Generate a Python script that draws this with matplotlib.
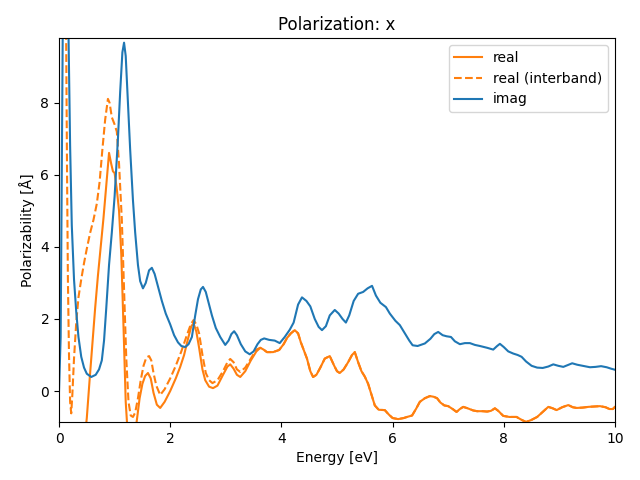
import numpy as np
import matplotlib
matplotlib.use("Agg")
import matplotlib.pyplot as plt

# imaginary part
imag_x = [0.0, 0.03, 0.055, 0.08, 0.11, 0.14, 0.17, 0.2, 0.23, 0.27, 0.31, 0.35, 0.40, 0.45, 0.50,
          0.58, 0.66, 0.72, 0.77, 0.81, 0.85, 0.90, 0.95, 1.00, 1.06, 1.10, 1.14, 1.17, 1.20, 1.24,
          1.28, 1.33, 1.37, 1.42, 1.46, 1.51, 1.56, 1.62, 1.67, 1.72, 1.78, 1.85, 1.92, 2.00, 2.07,
          2.14, 2.20, 2.27, 2.33, 2.39, 2.45, 2.50, 2.55, 2.59, 2.64, 2.70, 2.75, 2.82, 2.90, 2.99,
          3.05, 3.10, 3.15, 3.20, 3.27, 3.35, 3.43, 3.50, 3.57, 3.63, 3.69, 3.78, 3.88, 3.97, 4.06,
          4.15, 4.22, 4.30, 4.37, 4.45, 4.52, 4.60, 4.67, 4.73, 4.80, 4.87, 4.96, 5.03, 5.10, 5.16,
          5.22, 5.30, 5.38, 5.47, 5.55, 5.63, 5.70, 5.78, 5.88, 5.95, 6.05, 6.13, 6.22, 6.30, 6.36,
          6.45, 6.58, 6.68, 6.75, 6.82, 6.90, 6.97, 7.05, 7.12, 7.21, 7.30, 7.39, 7.48, 7.57, 7.70,
          7.81, 7.88, 7.93, 8.00, 8.08, 8.17, 8.25, 8.32, 8.40, 8.50, 8.60, 8.70, 8.80, 8.89, 8.98,
          9.07, 9.15, 9.23, 9.32, 9.45, 9.55, 9.65, 9.75, 9.85, 9.93, 10.0]
imag_y = [0.0, 1.5, 7.0, 13.0, 14.5, 13.0, 10.0, 6.8, 4.6, 3.1, 2.2, 1.5, 0.95, 0.65, 0.48,
          0.39, 0.45, 0.6, 0.85, 1.4, 2.3, 3.5, 4.4, 5.4, 7.0, 8.3, 9.4, 9.67, 9.3, 8.0,
          6.7, 5.3, 4.4, 3.5, 3.05, 2.85, 3.0, 3.35, 3.42, 3.25, 2.9, 2.5, 2.15, 1.85, 1.55,
          1.35, 1.25, 1.22, 1.3, 1.5, 2.1, 2.55, 2.82, 2.89, 2.75, 2.4, 2.1, 1.75, 1.5, 1.28,
          1.4, 1.58, 1.66, 1.55, 1.3, 1.1, 1.02, 1.1, 1.3, 1.42, 1.46, 1.42, 1.4, 1.33, 1.5,
          1.7, 1.9, 2.4, 2.6, 2.5, 2.35, 2.0, 1.78, 1.69, 1.8, 2.1, 2.25, 2.15, 2.0, 1.9,
          2.1, 2.5, 2.7, 2.75, 2.85, 2.92, 2.65, 2.45, 2.33, 2.15, 1.95, 1.83, 1.6, 1.4, 1.27,
          1.25, 1.32, 1.45, 1.58, 1.64, 1.55, 1.52, 1.5, 1.38, 1.3, 1.33, 1.33, 1.28, 1.25, 1.2,
          1.15, 1.25, 1.31, 1.22, 1.1, 1.04, 1.0, 0.95, 0.82, 0.7, 0.65, 0.64, 0.68, 0.74, 0.7,
          0.67, 0.72, 0.77, 0.73, 0.69, 0.66, 0.67, 0.69, 0.66, 0.62, 0.59]

# real part (total)
real_x = [0.0, 0.1, 0.2, 0.3, 0.4, 0.47, 0.5, 0.55, 0.6, 0.65, 0.7, 0.75, 0.8, 0.85, 0.9, 0.94,
          0.97, 1.0, 1.04, 1.08, 1.12, 1.16, 1.2, 1.24, 1.3, 1.36, 1.4, 1.45, 1.5, 1.55, 1.6, 1.65,
          1.7, 1.76, 1.82, 1.9, 2.0, 2.1, 2.18, 2.25, 2.32, 2.38, 2.42, 2.47, 2.52, 2.58, 2.63,
          2.7, 2.77, 2.85, 2.95, 3.03, 3.08, 3.14, 3.2, 3.26, 3.35, 3.45, 3.55, 3.62, 3.68, 3.74,
          3.85, 3.96, 4.04, 4.1, 4.17, 4.24, 4.3, 4.35, 4.41, 4.46, 4.52, 4.57, 4.63, 4.7, 4.78,
          4.87, 4.95, 5.0, 5.05, 5.12, 5.2, 5.27, 5.32, 5.38, 5.44, 5.5, 5.56, 5.62, 5.68, 5.75,
          5.86, 5.93, 6.0, 6.1, 6.2, 6.26, 6.35, 6.42, 6.49, 6.58, 6.67, 6.74, 6.8, 6.86, 6.93,
          7.0, 7.08, 7.15, 7.21, 7.27, 7.35, 7.45, 7.52, 7.62, 7.7, 7.77, 7.84, 7.9, 7.99, 8.1,
          8.23, 8.32, 8.4, 8.5, 8.6, 8.7, 8.8, 8.88, 8.95, 9.05, 9.16, 9.24, 9.31, 9.42, 9.52,
          9.62, 9.73, 9.83, 9.9, 9.96, 10.0]
real_y = [-20.0, -15.0, -8.0, -4.5, -2.5, -1.2, -0.75, 0.3, 1.3, 2.3, 3.2, 4.0, 4.8, 5.7, 6.61, 6.3,
          6.1, 6.05, 5.6, 5.0, 3.8, 1.8, -0.3, -1.3, -1.6, -1.3, -0.8, -0.2, 0.2, 0.42, 0.5, 0.35,
          -0.05, -0.38, -0.47, -0.3, 0.0, 0.35, 0.67, 1.0, 1.45, 1.8, 1.88, 1.65, 1.2, 0.6, 0.3,
          0.12, 0.08, 0.15, 0.45, 0.68, 0.74, 0.62, 0.45, 0.39, 0.55, 0.85, 1.1, 1.2, 1.15, 1.08,
          1.08, 1.14, 1.3, 1.47, 1.6, 1.69, 1.6, 1.35, 1.1, 0.9, 0.55, 0.39, 0.45, 0.65, 0.9,
          0.97, 0.7, 0.55, 0.5, 0.6, 0.8, 1.0, 1.08, 0.8, 0.55, 0.4, 0.2, -0.1, -0.4, -0.52,
          -0.53, -0.65, -0.75, -0.78, -0.75, -0.72, -0.68, -0.5, -0.3, -0.2, -0.14, -0.16, -0.2, -0.32, -0.4,
          -0.42, -0.5, -0.58, -0.5, -0.44, -0.48, -0.54, -0.56, -0.56, -0.57, -0.55, -0.48, -0.55, -0.69, -0.72,
          -0.72, -0.8, -0.86, -0.8, -0.72, -0.58, -0.44, -0.48, -0.53, -0.45, -0.39, -0.45, -0.47, -0.46, -0.44,
          -0.43, -0.42, -0.45, -0.5, -0.5, -0.44]

# real part (interband) where it differs from the total; above 3.6 eV it follows the total
inter_x = [0.0, 0.05, 0.09, 0.12, 0.13, 0.145, 0.16, 0.18, 0.2, 0.22, 0.24, 0.27, 0.31, 0.35, 0.4, 0.45,
           0.5, 0.56, 0.62, 0.68, 0.73, 0.78, 0.83, 0.88, 0.91, 0.95, 1.0, 1.04, 1.08, 1.13, 1.17,
           1.21, 1.25, 1.29, 1.33, 1.37, 1.42, 1.47, 1.52, 1.57, 1.62, 1.66, 1.7, 1.75, 1.82, 1.9,
           2.0, 2.1, 2.2, 2.3, 2.37, 2.42, 2.47, 2.52, 2.58, 2.64, 2.7, 2.76, 2.85, 2.95, 3.03,
           3.08, 3.14, 3.2, 3.26, 3.35, 3.45, 3.55]
inter_y = [14.0, 14.0, 13.5, 11.5, 9.5, 6.0, 3.1, 1.0, -0.3, -0.62, -0.1, 0.9, 1.9, 2.6, 3.1, 3.55,
           3.95, 4.39, 4.75, 5.2, 5.8, 6.7, 7.53, 8.11, 8.0, 7.6, 7.4, 7.2, 6.3, 4.75, 2.8,
           0.9, -0.3, -0.68, -0.72, -0.6, -0.2, 0.3, 0.7, 0.93, 0.97, 0.85, 0.5, 0.15, -0.11, 0.05,
           0.35, 0.7, 1.1, 1.55, 1.85, 1.97, 1.85, 1.6, 1.0, 0.5, 0.3, 0.22, 0.3, 0.55, 0.8,
           0.89, 0.8, 0.6, 0.53, 0.65, 0.9, 1.15]

rx = np.array(real_x)
ry = np.array(real_y)
mask = rx > inter_x[-1]
dash_x = np.concatenate([inter_x, rx[mask]])
dash_y = np.concatenate([inter_y, ry[mask]])

fig, ax = plt.subplots(figsize=(6.4, 4.8), dpi=100)
ax.plot(rx, ry, color="C1", label="real")
ax.plot(dash_x, dash_y, color="C1", linestyle="--", label="real (interband)")
ax.plot(imag_x, imag_y, color="C0", label="imag")
ax.set_xlim(0, 10)
ax.set_ylim(-0.86, 9.8)
ax.set_title("Polarization: x")
ax.set_xlabel("Energy [eV]")
ax.set_ylabel("Polarizability [Å]")
ax.legend(loc="upper right")
fig.subplots_adjust(left=59/640, right=615/640, top=1-38/480, bottom=1-422/480)
fig.savefig("out.png")
